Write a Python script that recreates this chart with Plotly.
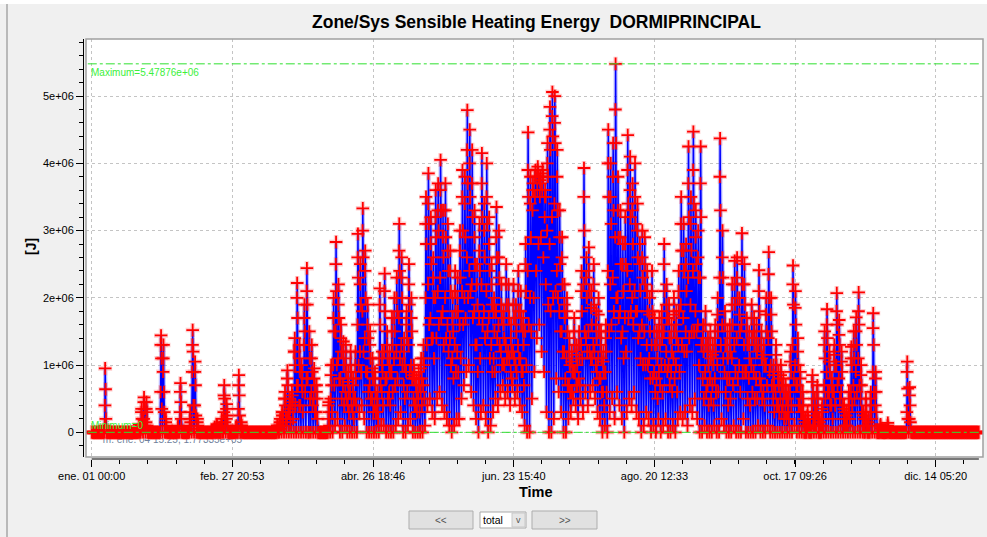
import datetime as dt
import plotly.graph_objects as go

# ---------------------------------------------------------------------------
# Daily readings of zone sensible heating energy, in MJ (x1e6 J).
# Each list holds one value per day of the year (Jan 1 .. Dec 31), one month
# per line, taken at the hour given in READ_HOURS.
# ---------------------------------------------------------------------------
night = [  # 03:00
    0, 0, 0, 0, 0, 0, 0, 0, 0, 0, 0, 0, 0, 0, 0, 0, 0, 0, 0, 0, 0, 0, 0, 0, 0, 0, 0, 0, 0, 0, 0,
    0, 0, 0, 0, 0, 0, 0, 0, 0, 0, 0, 0, 0, 0, 0, 0, 0, 0, 0, 0, 0, 0, 0, 0, 0, 0, 0, 0,
    0, 0, 0, 0, 0, 0, 0, 0, 0, 0, 0, 0, 0, 0, 0, 0, 0, 0, 0, 0, 0, 0, 0, 0, 0, 0, 0, 0, 0, 0, 0,
    0, 0, 0, 0, 0, 0, 0, 0, 0, 0, 0.1, 0.2, 0, 0, 0.1, 0, 0, 0, 0, 0, 0.3, 0.4, 0.2, 0, 0, 0, 0, 0, 0, 0.1,
    0.1, 0, 0, 0, 0, 0.1, 0.2, 0.3, 0, 0, 0.1, 0.2, 0, 0, 0, 0, 0, 0.1, 0.4, 0.5, 0.3, 0.2, 0.5, 0.6, 0.4, 0.3, 0.2, 0.1, 0, 0.1, 0.2,
    0.2, 0.5, 0.7, 0.9, 1.0, 0.6, 0.4, 0.2, 0, 0.3, 0.4, 0.2, 0, 0.1, 0.3, 0.5, 0.4, 0.6, 0.7, 0.5, 0.6, 0.4, 0.7, 0.5, 0.6, 0.4, 0.3, 0.1, 0, 0,
    0.5, 0.9, 1.4, 1.6, 1.2, 0.9, 0.3, 0, 0, 0.2, 0.8, 0.6, 0.3, 0, 0, 0.2, 0.3, 0.5, 0.4, 0.2, 0.5, 0.3, 0.6, 0.4, 0.6, 0.7, 0.5, 0.3, 0.2, 0, 0.1,
    0, 0.3, 0.5, 0.2, 0.6, 0.4, 0.2, 0, 0.3, 0.5, 0.4, 0.6, 0.3, 0.2, 0, 0.1, 0.3, 0.2, 0, 0.1, 0, 0.2, 0, 0.1, 0.2, 0, 0, 0.1, 0, 0.2, 0.3,
    0.2, 0.3, 0.1, 0.4, 0.3, 0.5, 0.2, 0, 0, 0.1, 0, 0, 0, 0.1, 0, 0, 0.2, 0.1, 0, 0, 0, 0.1, 0, 0, 0, 0.2, 0, 0, 0, 0,
    0, 0.1, 0, 0, 0, 0.1, 0, 0, 0, 0, 0, 0, 0, 0, 0, 0, 0.1, 0, 0, 0, 0, 0, 0, 0, 0, 0, 0, 0, 0, 0, 0,
    0, 0, 0, 0, 0, 0, 0, 0, 0, 0, 0, 0, 0, 0, 0, 0, 0, 0, 0, 0, 0, 0, 0, 0, 0, 0, 0, 0, 0, 0,
    0, 0, 0, 0, 0, 0, 0, 0, 0, 0, 0, 0, 0, 0, 0, 0, 0, 0, 0, 0, 0, 0, 0, 0, 0, 0, 0, 0, 0, 0, 0,
]
morn = [  # 09:00
    0, 0, 0, 0, 0, 0.1, 0, 0, 0, 0, 0, 0, 0, 0, 0, 0, 0, 0, 0, 0, 0.1, 0.2, 0.15, 0, 0, 0, 0, 0, 0.6, 0.9, 0,
    0, 0, 0, 0, 0, 0.3, 0, 0, 0, 0.1, 0.9, 0.4, 0, 0, 0, 0, 0, 0, 0, 0, 0, 0, 0.1, 0.3, 0.2, 0, 0, 0,
    0, 0.35, 0, 0, 0, 0, 0, 0, 0, 0, 0, 0, 0, 0, 0, 0, 0, 0.1, 0.1, 0.3, 0.5, 0.2, 0.3, 0.6, 1.2, 0.7, 0.4, 1.0, 1.3, 0.8, 0,
    0.6, 0.5, 0.3, 0, 0, 0, 0, 0.2, 0.5, 1.0, 1.5, 1.1, 0.8, 0.7, 0.6, 0.4, 0.6, 0.3, 0.5, 1.6, 1.2, 1.8, 1.4, 0.9, 0.7, 0.5, 0.4, 0.3, 1.1, 0.6,
    1.2, 0.8, 0.6, 0.9, 1.1, 1.2, 1.7, 1.3, 0.7, 0.9, 1.3, 1.0, 0.5, 0.4, 0.5, 0.6, 0.7, 2.0, 2.2, 1.7, 1.4, 2.0, 2.1, 2.3, 1.8, 2.0, 1.6, 1.4, 1.1, 1.3, 1.2,
    1.6, 2.1, 2.0, 2.6, 2.4, 2.2, 1.8, 1.3, 1.7, 2.2, 1.8, 2.1, 1.7, 1.3, 1.1, 1.8, 1.6, 1.2, 1.0, 1.3, 1.2, 0.9, 1.2, 1.0, 1.3, 1.1, 0.9, 1.5, 2.4, 2.0,
    3.3, 3.5, 3.6, 3.5, 3.6, 3.2, 3.0, 2.8, 3.2, 3.4, 2.4, 1.8, 1.5, 1.2, 1.1, 0.7, 0.6, 0.9, 0.7, 0.8, 1.3, 2.2, 1.4, 1.5, 1.1, 1.3, 1.0, 1.1, 0.8, 0.6, 0.9,
    2.4, 2.2, 2.3, 2.9, 2.0, 1.8, 1.5, 1.7, 2.4, 2.2, 2.0, 2.1, 1.8, 1.5, 1.6, 1.5, 1.3, 1.1, 1.3, 0.9, 0.8, 0.9, 1.0, 1.5, 1.2, 1.0, 0.9, 1.1, 1.0, 1.3, 1.9,
    1.7, 1.5, 2.3, 1.9, 2.4, 1.8, 1.6, 2.3, 0.8, 0.9, 0.7, 0.8, 0.7, 0.8, 1.0, 2.3, 1.6, 0.9, 0.8, 0.8, 1.1, 1.3, 1.4, 1.0, 1.6, 1.3, 0.9, 0.8, 1.0, 0.9,
    0.8, 1.3, 0.7, 0.6, 1.0, 1.4, 1.0, 0.5, 0.6, 0.4, 0.5, 0.4, 0.3, 0.3, 0.6, 1.3, 1.0, 0.7, 0.4, 0.3, 0, 0.1, 0, 0.4, 0.2, 0.3, 0, 0.2, 0.7, 0.9, 0.6,
    0.4, 0.6, 1.0, 0.8, 0.6, 0.2, 0.1, 0.3, 0.6, 0.7, 0.9, 1.1, 0.5, 0.1, 0.2, 0, 0.3, 0.9, 0.4, 0, 0, 0, 0, 0, 0, 0, 0, 0, 0, 0,
    0, 0.3, 0.2, 0, 0, 0, 0, 0, 0, 0, 0, 0, 0, 0, 0, 0, 0, 0, 0, 0, 0, 0, 0, 0, 0, 0, 0, 0, 0, 0, 0,
]
late = [  # 11:00
    0, 0, 0, 0, 0, 0.4, 0, 0, 0, 0, 0, 0, 0, 0, 0, 0, 0, 0, 0, 0.08, 0.3, 0.45, 0.35, 0, 0, 0, 0, 0, 1.3, 1.1, 0.15,
    0, 0, 0, 0, 0.08, 0.6, 0, 0, 0, 0.2, 1.3, 0.9, 0.15, 0, 0, 0, 0, 0, 0, 0.05, 0.1, 0.03, 0.15, 0.55, 0.35, 0, 0, 0,
    0.08, 0.7, 0.1, 0, 0, 0, 0, 0, 0, 0, 0, 0, 0, 0, 0, 0, 0, 0.05, 0.15, 0.25, 0.5, 0.8, 0.4, 0.45, 1.2, 2.0, 1.1, 0.7, 1.7, 2.1, 1.3,
    1.1, 0.8, 0.6, 0, 0, 0, 0, 0.4, 0.85, 1.7, 2.5, 1.9, 1.4, 1.2, 1.1, 0.75, 1.0, 0.7, 1.0, 2.6, 2.2, 3.0, 2.4, 1.6, 1.3, 0.95, 0.8, 0.5, 1.9, 1.0,
    2.1, 1.3, 1.0, 1.5, 1.7, 2.0, 2.7, 2.3, 1.2, 1.6, 2.2, 1.7, 0.85, 0.7, 0.8, 0.95, 1.1, 3.1, 3.4, 2.8, 2.3, 3.2, 3.3, 3.6, 2.9, 3.3, 2.7, 2.4, 1.7, 2.1, 2.0,
    2.7, 3.5, 3.4, 4.2, 4.0, 3.7, 2.9, 2.2, 2.7, 3.7, 3.0, 3.5, 2.8, 2.2, 1.8, 2.9, 2.6, 1.9, 1.6, 2.2, 1.9, 1.4, 1.9, 1.7, 2.1, 1.8, 1.5, 2.5, 3.9, 3.4,
    3.6, 3.8, 3.9, 3.75, 3.85, 3.5, 4.0, 4.5, 4.7, 4.6, 3.8, 2.9, 2.6, 1.9, 1.8, 1.2, 1.05, 1.5, 1.15, 1.3, 2.1, 3.5, 2.3, 2.4, 1.85, 2.2, 1.6, 1.75, 1.3, 1.05, 1.4,
    4.0, 3.5, 3.8, 4.8, 3.3, 2.9, 2.5, 2.8, 3.9, 3.6, 3.3, 3.5, 3.0, 2.5, 2.6, 2.5, 2.1, 1.75, 2.1, 1.5, 1.3, 1.5, 1.6, 2.5, 1.9, 1.7, 1.4, 1.75, 1.6, 2.1, 3.1,
    2.7, 2.5, 3.7, 3.1, 3.9, 2.9, 2.6, 3.7, 1.4, 1.6, 1.2, 1.3, 1.15, 1.4, 1.75, 3.8, 2.6, 1.6, 1.3, 1.4, 1.9, 2.2, 2.3, 1.75, 2.6, 2.2, 1.5, 1.3, 1.7, 1.5,
    1.4, 2.1, 1.3, 1.15, 1.75, 2.35, 1.75, 0.85, 1.15, 0.8, 0.85, 0.7, 0.6, 0.5, 1.05, 2.2, 1.85, 1.2, 0.8, 0.5, 0.15, 0.25, 0.08, 0.75, 0.4, 0.6, 0.15, 0.35, 1.3, 1.6, 1.05,
    0.7, 1.15, 1.8, 1.45, 1.05, 0.35, 0.25, 0.5, 1.1, 1.3, 1.5, 1.8, 0.85, 0.25, 0.4, 0.15, 0.5, 1.55, 0.8, 0, 0.1, 0, 0, 0.1, 0, 0, 0, 0, 0, 0,
    0, 0.9, 0.55, 0, 0, 0, 0, 0, 0, 0, 0, 0, 0, 0, 0, 0, 0, 0, 0, 0, 0, 0, 0, 0, 0, 0, 0, 0, 0, 0, 0,
]
peak = [  # 13:00
    0, 0, 0, 0, 0, 0.95, 0, 0, 0, 0, 0, 0, 0, 0, 0, 0, 0, 0, 0, 0.12, 0.35, 0.52, 0.45, 0, 0, 0, 0, 0, 1.44, 1.30, 0.2,
    0, 0, 0, 0, 0.1, 0.73, 0, 0, 0, 0.3, 1.52, 1.05, 0.2, 0, 0, 0, 0, 0, 0, 0.08, 0.12, 0.05, 0.2, 0.70, 0.42, 0, 0, 0,
    0.1, 0.85, 0.15, 0, 0, 0, 0, 0, 0, 0, 0, 0, 0, 0, 0, 0, 0, 0.1, 0.2, 0.3, 0.6, 0.92, 0.5, 0.55, 1.4, 2.22, 1.3, 0.9, 1.9, 2.44, 1.5,
    1.3, 0.95, 0.7, 0, 0, 0, 0, 0.45, 1.0, 2.0, 2.83, 2.2, 1.6, 1.35, 1.3, 0.9, 1.2, 0.8, 1.2, 2.95, 2.5, 3.33, 2.7, 1.9, 1.5, 1.1, 0.9, 0.6, 2.14, 1.2,
    2.36, 1.5, 1.2, 1.7, 2.0, 2.3, 3.1, 2.6, 1.4, 1.8, 2.5, 2.0, 1.0, 0.8, 0.9, 1.1, 1.3, 3.5, 3.85, 3.2, 2.6, 3.6, 3.7, 4.05, 3.3, 3.7, 3.1, 2.7, 2.0, 2.4, 2.3,
    3.0, 3.9, 3.8, 4.79, 4.5, 4.2, 3.3, 2.5, 3.1, 4.15, 3.4, 4.0, 3.2, 2.5, 2.0, 3.35, 3.0, 2.2, 1.8, 2.5, 2.2, 1.6, 2.2, 1.9, 2.4, 2.1, 1.7, 2.8, 4.46, 3.8,
    3.7, 3.9, 3.95, 3.8, 3.9, 3.6, 4.3, 4.84, 5.06, 5.0, 4.2, 3.3, 2.9, 2.2, 2.0, 1.4, 1.2, 1.7, 1.3, 1.5, 2.4, 3.93, 2.6, 2.75, 2.1, 2.5, 1.8, 2.0, 1.5, 1.2, 1.6,
    4.5, 4.0, 4.3, 5.47876, 3.8, 3.3, 2.8, 3.2, 4.42, 4.1, 3.7, 4.0, 3.4, 2.8, 3.0, 2.9, 2.4, 2.0, 2.4, 1.7, 1.5, 1.7, 1.8, 2.8, 2.2, 1.9, 1.6, 2.0, 1.8, 2.4, 3.5,
    3.1, 2.8, 4.25, 3.5, 4.47, 3.3, 3.0, 4.25, 1.6, 1.8, 1.4, 1.5, 1.3, 1.6, 2.0, 4.37, 3.0, 1.8, 1.5, 1.6, 2.2, 2.55, 2.6, 2.0, 2.96, 2.5, 1.7, 1.5, 1.9, 1.7,
    1.6, 2.41, 1.5, 1.3, 2.0, 2.68, 2.0, 1.0, 1.3, 0.9, 1.0, 0.8, 0.7, 0.6, 1.2, 2.48, 2.1, 1.4, 0.9, 0.6, 0.2, 0.3, 0.1, 0.85, 0.5, 0.7, 0.2, 0.4, 1.5, 1.83, 1.2,
    0.8, 1.3, 2.07, 1.67, 1.2, 0.4, 0.3, 0.6, 1.27, 1.5, 1.71, 2.08, 1.0, 0.3, 0.5, 0.2, 0.6, 1.77, 0.9, 0, 0.12, 0, 0, 0.14, 0, 0, 0, 0, 0, 0,
    0, 1.05, 0.67, 0, 0, 0, 0, 0, 0, 0, 0, 0, 0, 0, 0, 0, 0, 0, 0, 0, 0, 0, 0, 0, 0, 0, 0, 0, 0, 0, 0,
]
aft = [  # 17:00
    0, 0, 0, 0, 0, 0.64, 0, 0, 0, 0, 0, 0, 0, 0, 0, 0, 0, 0, 0, 0.05, 0.2, 0.35, 0.3, 0, 0, 0, 0, 0, 1.1, 0.6, 0.1,
    0, 0, 0, 0, 0.05, 0.45, 0, 0, 0, 0.15, 1.2, 0.7, 0.1, 0, 0, 0, 0, 0, 0, 0.04, 0.06, 0, 0.1, 0.5, 0.25, 0, 0, 0,
    0.05, 0.55, 0.1, 0, 0, 0, 0, 0, 0, 0, 0, 0, 0, 0, 0, 0, 0, 0.05, 0.1, 0.2, 0.4, 0.7, 0.35, 0.4, 1.0, 1.7, 0.9, 0.6, 1.5, 1.9, 1.1,
    0.9, 0.7, 0.5, 0, 0, 0, 0, 0.3, 0.7, 1.5, 2.1, 1.7, 1.2, 1.0, 0.9, 0.6, 0.9, 0.5, 0.8, 2.3, 1.9, 2.6, 2.0, 1.4, 1.1, 0.8, 0.6, 0.4, 1.6, 0.9,
    1.8, 1.1, 0.9, 1.3, 1.5, 1.8, 2.4, 2.0, 1.0, 1.4, 1.9, 1.5, 0.8, 0.6, 0.7, 0.8, 1.0, 2.8, 3.1, 2.5, 2.0, 2.9, 3.0, 3.3, 2.6, 2.9, 2.4, 2.1, 1.5, 1.8, 1.8,
    2.3, 3.0, 2.9, 3.7, 3.5, 3.2, 2.5, 1.9, 2.4, 3.2, 2.6, 3.1, 2.4, 1.9, 1.5, 2.6, 2.3, 1.7, 1.4, 1.9, 1.7, 1.2, 1.7, 1.5, 1.8, 1.6, 1.3, 2.1, 3.5, 2.9,
    3.6, 3.8, 3.8, 3.7, 3.8, 3.5, 3.8, 4.2, 4.4, 4.3, 3.3, 2.5, 2.2, 1.7, 1.5, 1.0, 0.9, 1.3, 1.0, 1.1, 1.8, 3.0, 2.0, 2.1, 1.6, 1.9, 1.4, 1.5, 1.1, 0.9, 1.2,
    3.5, 3.1, 3.3, 4.3, 2.9, 2.5, 2.1, 2.5, 3.4, 3.2, 2.8, 3.1, 2.6, 2.1, 2.3, 2.2, 1.8, 1.5, 1.8, 1.3, 1.1, 1.3, 1.4, 2.1, 1.7, 1.4, 1.2, 1.5, 1.4, 1.8, 2.7,
    2.4, 2.1, 3.2, 2.7, 3.4, 2.5, 2.3, 3.2, 1.2, 1.3, 1.0, 1.1, 1.0, 1.2, 1.5, 3.3, 2.3, 1.3, 1.1, 1.2, 1.6, 1.9, 2.0, 1.5, 2.2, 1.9, 1.3, 1.1, 1.4, 1.3,
    1.2, 1.8, 1.1, 1.0, 1.5, 2.0, 1.5, 0.7, 1.0, 0.7, 0.7, 0.6, 0.5, 0.4, 0.9, 1.9, 1.6, 1.0, 0.6, 0.4, 0.1, 0.2, 0.05, 0.6, 0.3, 0.5, 0.1, 0.3, 1.1, 1.4, 0.9,
    0.6, 1.0, 1.6, 1.3, 0.9, 0.3, 0.2, 0.4, 1.0, 1.1, 1.3, 1.6, 0.7, 0.2, 0.3, 0.1, 0.4, 1.3, 0.6, 0, 0.06, 0, 0, 0.07, 0, 0, 0, 0, 0, 0,
    0, 0.65, 0.4, 0, 0, 0, 0, 0, 0, 0, 0, 0, 0, 0, 0, 0, 0, 0, 0, 0, 0, 0, 0, 0, 0, 0, 0, 0, 0, 0, 0,
]
eve = [  # 20:00
    0, 0, 0, 0, 0, 0.2, 0, 0, 0, 0, 0, 0, 0, 0, 0, 0, 0, 0, 0, 0, 0.05, 0.1, 0.1, 0, 0, 0, 0, 0, 0.35, 0.3, 0,
    0, 0, 0, 0, 0, 0.2, 0, 0, 0, 0.05, 0.4, 0.25, 0, 0, 0, 0, 0, 0, 0, 0, 0, 0, 0, 0.15, 0.1, 0, 0, 0,
    0, 0.25, 0, 0, 0, 0, 0, 0, 0, 0, 0, 0, 0, 0, 0, 0, 0, 0, 0.05, 0.1, 0.2, 0.3, 0.15, 0.2, 0.4, 0.7, 0.4, 0.3, 0.6, 0.8, 0.5,
    0.4, 0.3, 0.2, 0, 0, 0, 0, 0.1, 0.3, 0.7, 1.0, 0.8, 0.5, 0.4, 0.5, 0.3, 0.4, 0.2, 0.4, 1.0, 0.9, 1.2, 0.9, 0.6, 0.5, 0.3, 0.3, 0.2, 0.7, 0.4,
    0.8, 0.5, 0.4, 0.6, 0.7, 0.8, 1.1, 1.0, 0.5, 0.6, 0.9, 0.8, 0.4, 0.3, 0.3, 0.4, 0.5, 1.3, 1.6, 1.4, 1.1, 1.4, 1.6, 1.7, 1.3, 1.4, 1.2, 1.0, 0.8, 0.9, 0.9,
    1.1, 1.6, 1.7, 2.0, 2.1, 1.7, 1.3, 0.9, 1.1, 1.6, 1.4, 1.5, 1.1, 0.9, 0.9, 1.4, 1.3, 1.0, 1.0, 1.1, 1.1, 0.8, 1.1, 0.9, 1.1, 0.9, 0.7, 1.0, 1.6, 1.5,
    2.0, 2.4, 2.8, 2.9, 2.6, 2.2, 1.9, 1.8, 2.0, 2.1, 2.0, 1.5, 1.2, 0.8, 0.7, 0.6, 0.6, 0.9, 0.7, 0.7, 1.1, 1.5, 1.2, 1.2, 1.1, 1.2, 0.9, 0.8, 0.6, 0.4, 0.6,
    1.5, 1.6, 1.8, 2.0, 1.7, 1.4, 1.1, 1.2, 1.7, 1.8, 1.6, 1.8, 1.4, 1.1, 1.0, 1.0, 1.0, 0.8, 0.8, 0.6, 0.5, 0.7, 0.6, 1.0, 0.9, 0.7, 0.6, 0.8, 0.6, 0.9, 1.3,
    1.2, 1.2, 1.4, 1.5, 1.5, 1.5, 1.0, 1.3, 0.5, 0.6, 0.4, 0.5, 0.4, 0.6, 0.6, 1.3, 1.1, 0.6, 0.4, 0.5, 0.7, 0.9, 0.8, 0.6, 0.9, 0.9, 0.5, 0.4, 0.6, 0.5,
    0.5, 0.8, 0.5, 0.4, 0.7, 0.9, 0.7, 0.3, 0.4, 0.3, 0.3, 0.2, 0.2, 0.2, 0.4, 0.8, 0.7, 0.4, 0.3, 0.2, 0, 0.1, 0, 0.2, 0.1, 0.2, 0, 0.1, 0.5, 0.6, 0.4,
    0.2, 0.4, 0.7, 0.5, 0.4, 0.1, 0.1, 0.2, 0.4, 0.5, 0.6, 0.7, 0.3, 0, 0.1, 0, 0.2, 0.6, 0.3, 0, 0, 0, 0, 0, 0, 0, 0, 0, 0, 0,
    0, 0.2, 0.15, 0, 0, 0, 0, 0, 0, 0, 0, 0, 0, 0, 0, 0, 0, 0, 0, 0, 0, 0, 0, 0, 0, 0, 0, 0, 0, 0, 0,
]
READ_HOURS = [3, 9, 11, 13, 17, 20]

# Time-axis labels (Spanish locale) and the instants they mark
tick_text = ["ene. 01 00:00", "feb. 27 20:53", "abr. 26 18:46", "jun. 23 15:40",
             "ago. 20 12:33", "oct. 17 09:26", "dic. 14 05:20"]
tick_stamps = [dt.datetime(2001, 1, 1, 0, 0), dt.datetime(2001, 2, 27, 20, 53),
               dt.datetime(2001, 4, 26, 18, 46), dt.datetime(2001, 6, 23, 15, 40),
               dt.datetime(2001, 8, 20, 12, 33), dt.datetime(2001, 10, 17, 9, 26),
               dt.datetime(2001, 12, 14, 5, 20)]
y_tick_vals = [0, 1e6, 2e6, 3e6, 4e6, 5e6]
y_tick_text = ["0", "1e+06", "2e+06", "3e+06", "4e+06", "5e+06"]

TITLE = "Zone/Sys Sensible Heating Energy \u00a0DORMIPRINCIPAL"
READOUT = "m. ene. 04 15:25, 1.77335e+05"

# ---------------------------------------------------------------------------
start = dt.datetime(2001, 1, 1)
tick_days = [(s - start).total_seconds() / 86400 for s in tick_stamps]
tick_step = tick_days[1] - tick_days[0]

t, e = [], []
for d in range(len(peak)):
    for h, series in zip(READ_HOURS, (night, morn, late, peak, aft, eve)):
        t.append(d + h / 24)
        e.append(series[d] * 1e6)
e_max, e_min = max(e), min(e)

W, H = 987, 537
ML, MR, MT, MB = 83, 4, 39, 78
PW, PH = W - ML - MR, H - MT - MB


def px(xp):
    return (xp - ML) / PW


def py(yp):
    return (H - MB - yp) / PH


FONT = "Liberation Sans, Arial, sans-serif"

fig = go.Figure()
# status readout sitting under the series
fig.add_trace(go.Scatter(x=[4.6], y=[-0.115e6], mode="text", text=[READOUT],
                         textposition="middle right", cliponaxis=False,
                         textfont=dict(size=10, color="#6f7f9c", family=FONT),
                         hoverinfo="skip", showlegend=False))
fig.add_trace(go.Scatter(x=t, y=e, mode="lines", hoverinfo="skip", showlegend=False,
                         line=dict(color="rgba(80,80,255,0.35)", width=4)))
fig.add_trace(go.Scatter(x=t, y=e, mode="markers", hoverinfo="skip", showlegend=False,
                         marker=dict(symbol="cross-thin", size=10,
                                     line=dict(width=4.5, color="rgba(255,80,80,0.28)"))))
fig.add_trace(go.Scatter(x=t, y=e, mode="lines", showlegend=False,
                         line=dict(color="#0000ff", width=1.5)))
fig.add_trace(go.Scatter(x=t, y=e, mode="markers", showlegend=False,
                         marker=dict(symbol="cross-thin", size=9, color="#ff0000",
                                     line=dict(width=1.8, color="#ff0000"))))

fig.update_layout(
    width=W, height=H,
    margin=dict(l=ML, r=MR, t=MT, b=MB, pad=0),
    paper_bgcolor="#f0f0f0", plot_bgcolor="white",
    font=dict(family=FONT, size=11, color="#000000"),
    showlegend=False,
    xaxis=dict(
        domain=[px(86), 1], anchor="free", position=0,
        range=[-2.34, 366.7], tickvals=tick_days, ticktext=tick_text,
        ticks="outside", ticklen=7, tickcolor="#000000", tickwidth=1,
        showline=False, zeroline=False,
        showgrid=True, gridcolor="#c4c4c4", griddash="dot", gridwidth=1,
        tickfont=dict(size=11, family=FONT, color="#000000"),
        minor=dict(tick0=0, dtick=tick_step / 5, ticks="outside", ticklen=4,
                   tickcolor="#000000", showgrid=False),
    ),
    yaxis=dict(
        domain=[py(457), 1], anchor="free", position=0,
        range=[-0.367e6, 5.848e6], tickvals=y_tick_vals, ticktext=y_tick_text,
        ticks="outside", ticklen=7, tickcolor="#000000", tickwidth=1,
        showline=True, linecolor="#000000", linewidth=1, zeroline=False,
        showgrid=True, gridcolor="#c4c4c4", griddash="dot", gridwidth=1,
        tickfont=dict(size=11, family=FONT, color="#000000"),
        minor=dict(dtick=0.2e6, ticks="outside", ticklen=4, tickcolor="#000000",
                   showgrid=False),
    ),
)

shapes = [
    # window strip and left edge
    dict(type="rect", xref="paper", yref="paper", x0=px(0), x1=px(W), y0=py(0), y1=py(4),
         fillcolor="white", line=dict(width=0), layer="below"),
    dict(type="line", xref="paper", yref="paper", x0=px(7), x1=px(7), y0=py(4), y1=py(H),
         line=dict(color="#b9b9b9", width=2)),
    # plot frame
    dict(type="rect", xref="x domain", yref="y domain", x0=0, x1=1, y0=0, y1=1,
         line=dict(color="#a0a0a0", width=1.5), layer="above"),
    # time axis line spanning the data
    dict(type="line", xref="x", yref="paper", x0=0, x1=365, y0=0, y1=0,
         line=dict(color="#000000", width=1)),
    # maximum / minimum markers
    dict(type="line", xref="x domain", yref="y", x0=0.002, x1=0.998, y0=e_max, y1=e_max,
         line=dict(color="#2fe02f", width=1, dash="dashdot"), layer="above"),
    dict(type="line", xref="x domain", yref="y", x0=0.002, x1=0.998, y0=e_min, y1=e_min,
         line=dict(color="#2fe02f", width=1, dash="dashdot"), layer="above"),
    # navigation controls
    dict(type="rect", xref="paper", yref="paper", x0=px(409), x1=px(473), y0=py(529), y1=py(511),
         fillcolor="#e1e1e1", line=dict(color="#adadad", width=1)),
    dict(type="rect", xref="paper", yref="paper", x0=px(480), x1=px(526), y0=py(528), y1=py(512),
         fillcolor="white", line=dict(color="#a9a9a9", width=1)),
    dict(type="rect", xref="paper", yref="paper", x0=px(512), x1=px(525), y0=py(527), y1=py(513),
         fillcolor="#e6e6e6", line=dict(color="#c8c8c8", width=1)),
    dict(type="rect", xref="paper", yref="paper", x0=px(532), x1=px(597), y0=py(529), y1=py(511),
         fillcolor="#e1e1e1", line=dict(color="#adadad", width=1)),
]
fig.update_layout(shapes=shapes)


def label(text, xp, yp, size, color="#000000", xanchor="center", angle=0):
    return dict(text=text, x=px(xp), y=py(yp), xref="paper", yref="paper",
                showarrow=False, xanchor=xanchor, yanchor="middle", textangle=angle,
                font=dict(size=size, family=FONT, color=color))


annotations = [
    label("<b>" + TITLE + "</b>", 536, 22, 17.5),
    label("<b>[J]</b>", 31, 247, 14, angle=-90),
    label("<b>Time</b>", 536, 492, 14.5),
    label("&lt;&lt;", 441, 520, 10, color="#555555"),
    label("&gt;&gt;", 564.5, 520, 10, color="#555555"),
    label("total", 481, 520, 10.5, xanchor="left"),
    label("v", 518.5, 520, 9, color="#555555"),
    dict(text=f"Maximum={e_max:.5e}", x=px(89), y=e_max, xref="paper", yref="y",
         yshift=-9, showarrow=False, xanchor="left", yanchor="middle",
         font=dict(size=10, family=FONT, color="#3cf03c")),
    dict(text=f"Minimum={e_min:g}", x=px(89), y=e_min, xref="paper", yref="y",
         yshift=7, showarrow=False, xanchor="left", yanchor="middle",
         font=dict(size=10, family=FONT, color="#3cf03c")),
]
fig.update_layout(annotations=annotations)

fig.write_html("out.html")
